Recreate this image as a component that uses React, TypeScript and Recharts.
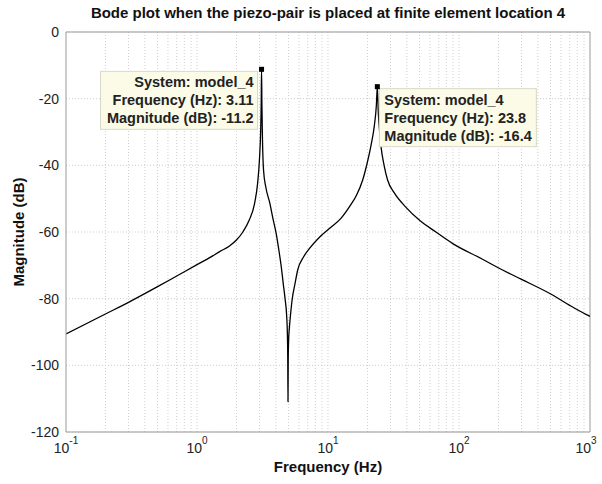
import React from 'react';
import { LineChart, Line, XAxis, YAxis, CartesianGrid, ReferenceLine, ReferenceDot } from 'recharts';

// frequency (Hz) and magnitude (dB)
const freqs = [
  0.1, 0.2, 0.3, 0.5, 0.7, 1.0, 1.25, 1.5, 1.77, 2.0, 2.24, 2.5, 2.75, 2.9, 3.0, 3.06, 3.09, 3.11,
  3.13, 3.16, 3.22, 3.35, 3.6, 3.8, 4.02, 4.2, 4.4, 4.55, 4.7, 4.84, 4.9, 4.93, 4.95,
  4.97, 5.0, 5.08, 5.2, 5.32, 5.6, 5.87, 6.5, 7.2, 8.5, 10.3, 12.5, 14.6, 16.5, 18.4, 20,
  21.3, 22.6, 23.4, 23.8, 24.2, 24.8, 25.4, 26.8, 28.5, 32, 39.4, 50, 66.7, 89, 150, 215,
  300, 518, 700, 931, 1000,
];
const mags = [
  -90.6, -84.6, -81.1, -76.4, -73.2, -69.8, -67.7, -65.8, -64.2, -62.4, -60.0, -56.5, -51.5, -45.5, -38, -30, -22, -11.2,
  -22, -32, -41.4, -46.5, -51.4, -56, -60.4, -65, -70.5, -75.4, -80, -85.4, -91, -98, -110.9,
  -98, -93, -88.4, -84, -80.4, -75.5, -71.4, -67.5, -65, -61.8, -58.9, -56, -52.4, -49, -44.4, -39,
  -34, -28, -22, -16.4, -24, -30, -34.4, -40, -44.4, -48.2, -52.6, -56.5, -60, -63.4, -68.1, -71.4,
  -74.2, -78.9, -82, -84.7, -85.3,
];

const xTicks = [0.1, 1, 10, 100, 1000];
const yTicks = [-120, -100, -80, -60, -40, -20, 0];
const minorFreqs = [
  0.2, 0.3, 0.4, 0.5, 0.6, 0.7, 0.8, 0.9, 1,
  2, 3, 4, 5, 6, 7, 8, 9, 10,
  20, 30, 40, 50, 60, 70, 80, 90, 100,
  200, 300, 400, 500, 600, 700, 800, 900,
];

const tip1 = { f: 3.11, mag: -11.2, lines: ['System: model_4', 'Frequency (Hz): 3.11', 'Magnitude (dB): -11.2'] };
const tip2 = { f: 23.8, mag: -16.4, lines: ['System: model_4', 'Frequency (Hz): 23.8', 'Magnitude (dB): -16.4'] };

const data = freqs.map((f, i) => ({ f, mag: mags[i] }));

const FONT = '"Liberation Sans", Arial, sans-serif';

const PowerTick = (props: any) => {
  const { x, y, payload } = props;
  const e = Math.round(Math.log10(payload.value));
  return (
    <text x={x} y={y + 19} textAnchor="middle" fontFamily={FONT} fontSize={14} fill="#222">
      <tspan>10</tspan>
      <tspan dy={-9} fontSize={10}>{e}</tspan>
    </text>
  );
};

const makeTip = (lines: string[], left: boolean) => (props: any) => {
  const { cx, cy } = props;
  const w = 157;
  const h = 58;
  const bx = left ? cx - 4 - w : cx + 2;
  const by = cy + 2;
  const tx = left ? cx - 8 : cx + 7;
  return (
    <g>
      <rect x={bx} y={by} width={w} height={h} fill="#fbfbe8" stroke="#d8d8c8" strokeWidth={1} />
      {lines.map((s, i) => (
        <text
          key={i}
          x={tx}
          y={by + 16 + i * 18}
          textAnchor={left ? 'end' : 'start'}
          fontFamily={FONT}
          fontSize={14.5}
          fontWeight="bold"
          fill="#222"
        >
          {s}
        </text>
      ))}
      <rect x={cx - 2.5} y={cy - 2.5} width={5} height={5} fill="#000" />
    </g>
  );
};

export default function App() {
  return (
    <div style={{ position: 'absolute', left: 0, top: 0, width: 602, height: 484, background: '#fff' }}>
      <div
        style={{
          position: 'absolute', left: 66, top: 4, width: 524, textAlign: 'center',
          fontFamily: FONT, fontSize: 15, fontWeight: 'bold', color: '#111', lineHeight: '17px',
        }}
      >
        Bode plot when the piezo-pair is placed at finite element location 4
      </div>
      <LineChart width={602} height={484} data={data} margin={{ top: 32, right: 12, bottom: 2, left: 0 }}>
        <CartesianGrid vertical={false} stroke="#cfcfcf" strokeDasharray="1 2" />
        {minorFreqs.map((f) => (
          <ReferenceLine key={f} x={f} stroke="#cfcfcf" strokeDasharray="1 2" />
        ))}
        <XAxis
          dataKey="f"
          type="number"
          scale="log"
          domain={[0.1, 1000]}
          ticks={xTicks}
          allowDataOverflow
          height={50}
          tickLine={false}
          tickSize={0}
          axisLine={{ stroke: '#999' }}
          tick={<PowerTick />}
          label={{
            value: 'Frequency  (Hz)', position: 'insideBottom', offset: 10,
            style: { fontFamily: FONT, fontSize: 15, fontWeight: 'bold', fill: '#111', whiteSpace: 'pre' },
          }}
        />
        <YAxis
          type="number"
          domain={[-120, 0]}
          ticks={yTicks}
          width={66}
          tickLine={false}
          tickSize={0}
          tickMargin={7}
          axisLine={{ stroke: '#999' }}
          tick={{ fontFamily: FONT, fontSize: 14, fill: '#222' }}
          label={{
            value: 'Magnitude (dB)', angle: -90, position: 'insideLeft', offset: 19,
            style: { textAnchor: 'middle', fontFamily: FONT, fontSize: 15, fontWeight: 'bold', fill: '#111' },
          }}
        />
        <ReferenceLine y={0} stroke="#999" />
        <ReferenceLine x={1000} stroke="#999" />
        <Line
          type="monotone"
          dataKey="mag"
          stroke="#000"
          strokeWidth={1.3}
          dot={false}
          isAnimationActive={false}
        />
        <ReferenceDot x={tip1.f} y={tip1.mag} r={3} shape={makeTip(tip1.lines, true)} />
        <ReferenceDot x={tip2.f} y={tip2.mag} r={3} shape={makeTip(tip2.lines, false)} />
      </LineChart>
    </div>
  );
}
